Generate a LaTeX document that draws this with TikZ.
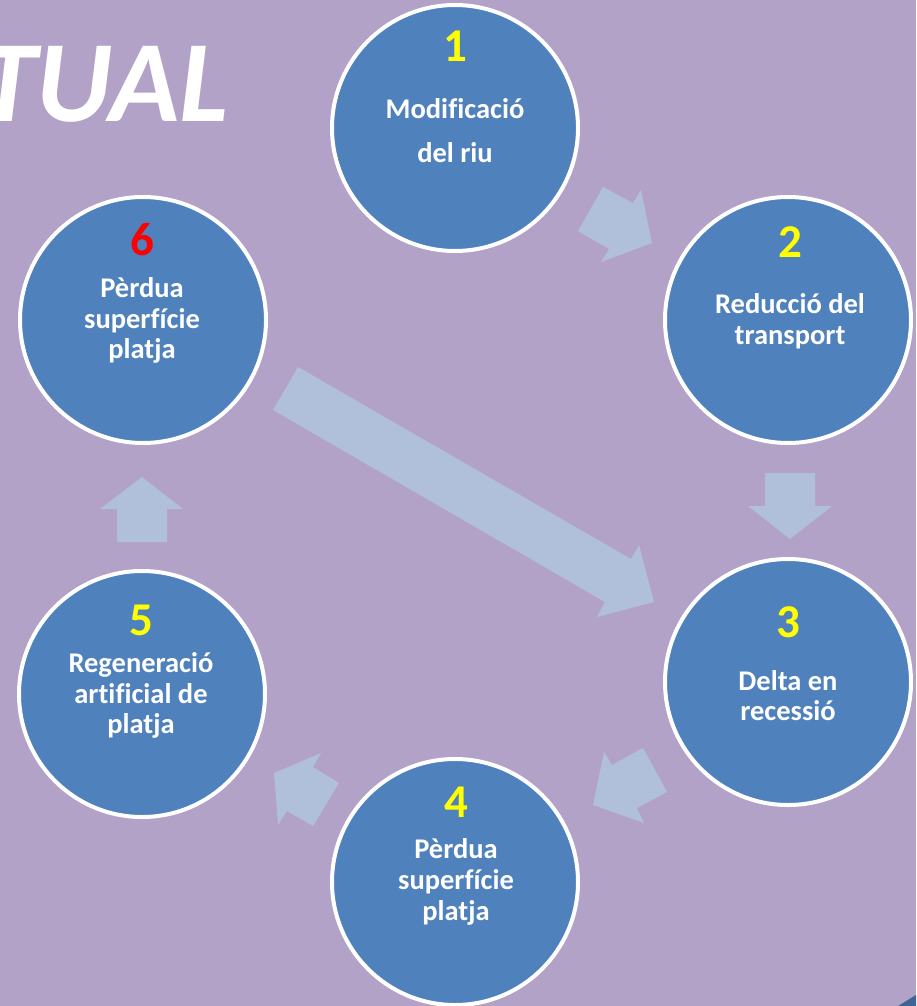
\documentclass[tikz,border=0pt]{standalone}
\usepackage{fontspec}
\setmainfont[Ligatures=CommonOff]{Carlito}
\definecolor{bgc}{HTML}{B2A2C7}
\definecolor{circc}{HTML}{4F81BD}
\definecolor{arrc}{HTML}{B0C0DA}
\definecolor{darkb}{HTML}{3B6597}
\definecolor{numy}{HTML}{FFFF00}
\definecolor{numr}{HTML}{FF0000}
\begin{document}
\begin{tikzpicture}[x=1pt,y=-1pt,
  stage/.style={circle,fill=circc,draw=white,line width=4pt,minimum size=246pt,inner sep=0pt},
  lbl/.style={anchor=base,text=white,font=\fontsize{28.5}{30}\selectfont\bfseries,inner sep=0pt},
  num/.style={anchor=base,text=numy,font=\fontsize{47}{50}\selectfont\bfseries,inner sep=0pt},
  blockarrow/.style={fill=arrc,draw=none}]
\useasboundingbox (0,0) rectangle (916,1006);
\fill[bgc] (0,0) rectangle (916,1006);
\fill[darkb] (898,1006) -- (916,995) -- (916,1006) -- cycle;
% title fragment
\node[anchor=base east,text=white,font=\fontsize{116}{120}\selectfont\bfseries\itshape,inner sep=0pt] (title) at (229,122) {TUAL};
% circles
\node[stage] (c1) at (455,128) {};
\node[stage] (c2) at (788,320) {};
\node[stage] (c3) at (788,682) {};
\node[stage] (c4) at (455,882) {};
\node[stage] (c5) at (142,694) {};
\node[stage] (c6) at (143,320) {};
% block arrows
\fill[blockarrow] (603,187) -- (633,203) -- (641,190) -- (652,243) -- (601,262) -- (609,249) -- (578,231) -- cycle;
\fill[blockarrow] (765,473) -- (815,473) -- (815,506) -- (832,506) -- (790,539) -- (748,506) -- (765,506) -- cycle;
\fill[blockarrow] (643,748) -- (667,792) -- (637,808) -- (644,823) -- (593,805) -- (604,752) -- (612,765) -- cycle;
\fill[blockarrow] (339,783) -- (313,826) -- (287,811) -- (278,825) -- (274,773) -- (321,753) -- (313,767) -- cycle;
\fill[blockarrow] (142,477) -- (183,509) -- (167,509) -- (167,542) -- (117,542) -- (117,509) -- (100,509) -- cycle;
\fill[blockarrow] (298,367) -- (631,559) -- (639,545) -- (654,602) -- (597,617) -- (605,602) -- (273,410) -- cycle;
% texts circle 1
\node[num] (n1) at (455,62) {1};
\node[lbl] (t1a) at (455,119) {Modificació};
\node[lbl] (t1b) at (455,162) {del riu};
% circle 2
\node[num] (n2) at (790,257) {2};
\node[lbl] (t2a) at (790,313) {Reducció del};
\node[lbl] (t2b) at (790,344) {transport};
% circle 3
\node[num] (n3) at (788,637) {3};
\node[lbl] (t3a) at (788,690) {Delta en};
\node[lbl] (t3b) at (788,720) {recessió};
% circle 4
\node[num] (n4) at (456,817) {4};
\node[lbl] (t4a) at (456,858) {Pèrdua};
\node[lbl] (t4b) at (456,889) {superfície};
\node[lbl] (t4c) at (456,920) {platja};
% circle 5
\node[num] (n5) at (141,635) {5};
\node[lbl] (t5a) at (141,672) {Regeneració};
\node[lbl] (t5b) at (141,703) {artificial de};
\node[lbl] (t5c) at (141,733) {platja};
% circle 6
\node[num,text=numr] (n6) at (142,255) {6};
\node[lbl] (t6a) at (142,297) {Pèrdua};
\node[lbl] (t6b) at (142,328) {superfície};
\node[lbl] (t6c) at (142,358) {platja};
\end{tikzpicture}
\end{document}
